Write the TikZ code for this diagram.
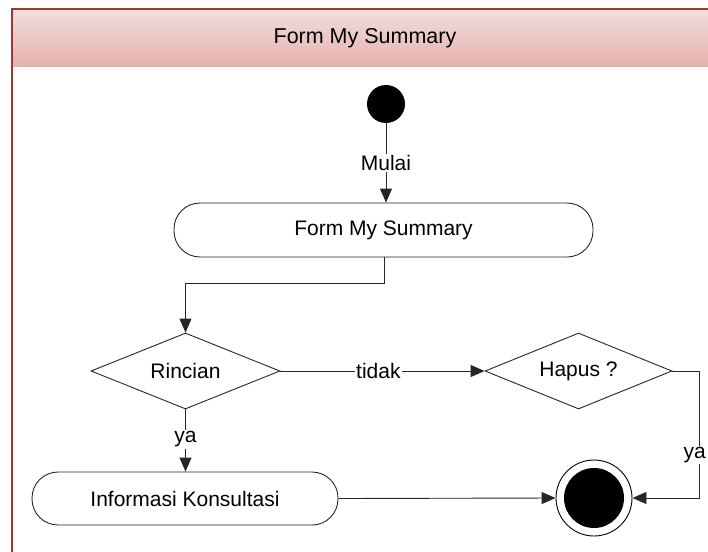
\documentclass[tikz,border=0pt]{standalone}
\usepackage{fontspec}
\setmainfont{Liberation Sans}
\usetikzlibrary{arrows.meta,shapes.geometric}
\definecolor{frameRed}{HTML}{9A3A36}
\definecolor{headTop}{HTML}{F3DEDC}
\definecolor{headBot}{HTML}{E5B2AE}
\tikzset{
  lbl/.style={font=\fontsize{21}{24}\selectfont, text=black},
  actbox/.style={draw=black!85, line width=0.9pt, rounded corners=26pt, fill=white, lbl, inner sep=0pt},
  decis/.style={draw=black!85, line width=0.9pt, diamond, aspect=2.5, fill=white, lbl, inner sep=0pt},
  conn/.style={draw=black!85, line width=0.9pt},
  arr/.style={conn, -{Triangle[length=14pt,width=12pt]}},
  onlbl/.style={lbl, fill=white, inner sep=1.5pt}
}
\begin{document}
\begin{tikzpicture}[x=1pt,y=-1pt]
\useasboundingbox (0,0) rectangle (708,551);
\clip (0,0) rectangle (708,551);
% swimlane frame
\shade[top color=headTop, bottom color=headBot] (12,9) rectangle (720,66);
\draw[frameRed, line width=2pt] (12,560) -- (12,9) -- (720,9);
\node[lbl, font=\fontsize{21.5}{25}\selectfont] (title) at (365,38) {Form My Summary};
% start
\node[circle, fill=black, minimum size=38pt, inner sep=0pt] (start) at (386,104) {};
% activities
\node[actbox, minimum width=419pt, minimum height=54pt] (form) at (383.5,230) {Form My Summary};
\node[decis, minimum width=189pt, minimum height=76pt] (rinc) at (185.5,371) {Rincian};
\node[decis, minimum width=187pt, minimum height=76pt] (hapus) at (578.5,371) {Hapus ?};
\node[actbox, minimum width=306pt, minimum height=53pt] (info) at (185,498.5) {Informasi Konsultasi};
% end
\node[circle, draw=black, line width=0.9pt, fill=white, minimum size=76pt, inner sep=0pt] (fin) at (594,498) {};
\node[circle, fill=black, minimum size=60pt, inner sep=0pt] (finin) at (594,498) {};
% turn points
\coordinate (t1) at (384,283);
\coordinate (t2) at (185.5,283);
\coordinate (t3) at (699,371);
\coordinate (t4) at (699,498);
% connectors
\draw[arr] (start) -- node[onlbl] (mulai) {Mulai} (form.north -| start);
\draw[arr] (form.south -| t1) -- (t1) -- (t2) -- (rinc.north);
\draw[arr] (rinc.east) -- node[onlbl, pos=0.48] (tidak) {tidak} (hapus.west);
\draw[arr] (rinc.south) -- node[onlbl, pos=0.48] (ya1) {ya} (info.north -| rinc.south);
\draw[arr] (hapus.east) -- (t3) -- (t4) -- (fin.east);
\node[onlbl, anchor=east, inner sep=1pt] (ya2) at (707,455) {ya};
\draw[arr] (info.east) -- (fin.west);
\end{tikzpicture}
\end{document}
